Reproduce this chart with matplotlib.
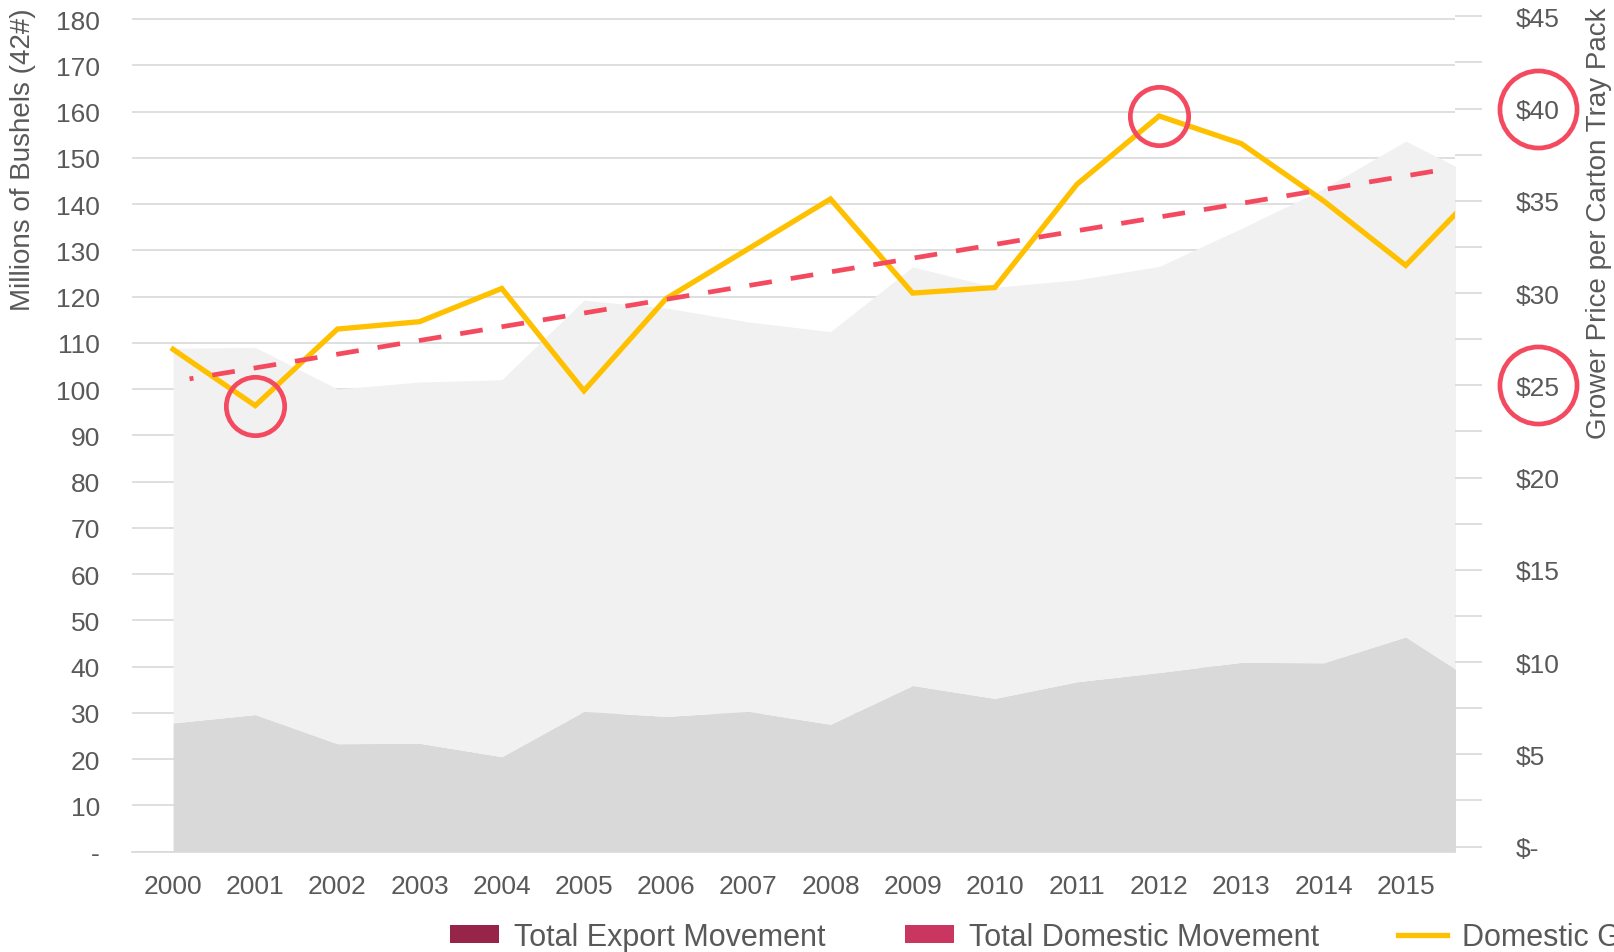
import matplotlib
matplotlib.use("Agg")
import matplotlib.pyplot as plt
import matplotlib.transforms as mtransforms
from matplotlib.lines import Line2D
from matplotlib.patches import Patch
from matplotlib.ticker import FuncFormatter

plt.rcParams["font.family"] = ["Liberation Sans", "DejaVu Sans"]

# values (2016 is only partly visible at the right edge)
years = [2000, 2001, 2002, 2003, 2004, 2005, 2006, 2007, 2008,
         2009, 2010, 2011, 2012, 2013, 2014, 2015, 2016]
export_mm = [27.8, 29.6, 23.3, 23.4, 20.5, 30.3, 29.2, 30.3, 27.5,
             35.9, 33.1, 36.7, 38.7, 40.9, 40.8, 46.4, 34.9]
domestic_mm = [81.0, 79.4, 76.7, 78.1, 81.5, 88.9, 88.3, 84.2, 84.9,
               90.5, 88.9, 86.9, 87.8, 93.8, 102.5, 107.2, 109.7]
grower_price = [26.95, 23.9, 28.05, 28.45, 30.25, 24.7, 29.7, 32.4, 35.1,
                30.0, 30.3, 35.9, 39.6, 38.1, 35.0, 31.5, 36.1]
trend_years = [2000.2, 2015.4]
trend_price = [25.35, 36.65]
circled_years = [2001, 2012]
circled_ticks = [40, 25]

GREY_TEXT = "#595959"
GRID = "#D9D9D9"
RED = "#F44A5F"
GOLD = "#FFC000"

W, H = 1614, 953
fig = plt.figure(figsize=(W / 100, H / 100), dpi=100)
ax = fig.add_axes([132 / W, 1 - 852.5 / H, (1455 - 132) / W, (852.5 - 17) / H])

total_mm = [e + d for e, d in zip(export_mm, domestic_mm)]
ax.fill_between(years, 0, export_mm, color="#D9D9D9", lw=0, zorder=1)
ax.fill_between(years, export_mm, total_mm, color="#F1F1F1", lw=0, zorder=1)

ax.set_xlim(1999.5, 2015.6)
ax.set_ylim(0, 180.65)
ax.set_yticks(range(0, 181, 10))
ax.yaxis.set_major_formatter(FuncFormatter(lambda v, _: "-" if v == 0 else f"{v:.0f}"))
shown_years = [y for y in years if y <= 2015]
ax.set_xticks(shown_years)
ax.set_xticklabels([str(y) for y in shown_years])
ax.grid(axis="y", color=GRID, lw=1.2)
ax.set_axisbelow(True)
ax.tick_params(axis="y", length=0, pad=23, labelsize=19, labelcolor=GREY_TEXT)
ax.tick_params(axis="x", length=0, pad=16, labelsize=19, labelcolor=GREY_TEXT)
for side in ("left", "right", "top"):
    ax.spines[side].set_visible(False)
ax.spines["bottom"].set_color(GRID)
ax.spines["bottom"].set_linewidth(1.2)

ax2 = ax.twinx()
ax2.plot(years, grower_price, color=GOLD, lw=3.8, solid_joinstyle="miter", zorder=3)
ax2.plot(trend_years, trend_price, color=RED, lw=3.4,
         linestyle=(3.98, (4.83, 4.04)), zorder=4)
circ_vals = [grower_price[years.index(y)] for y in circled_years]
ax2.plot(circled_years, circ_vals, "o", ms=42, mfc="none", mec=RED, mew=3.4, zorder=5)

# rings round two of the right-hand tick labels
trans = mtransforms.blended_transform_factory(ax2.transAxes, ax2.transData)
ax2.plot([1.063] * len(circled_ticks), circled_ticks, "o", ms=55.5, mfc="none",
         mec=RED, mew=3.4, transform=trans, clip_on=False, zorder=5)

ax2.set_ylim(-0.27, 45.02)
ax2.set_yticks([i * 2.5 for i in range(19)])


def price_fmt(v, _):
    if abs(v % 5) > 1e-6:
        return ""
    return "$-" if v == 0 else f"${v:.0f}"


ax2.yaxis.set_major_formatter(FuncFormatter(price_fmt))
ax2.tick_params(axis="y", direction="out", length=19.4, width=1.2, color=GRID,
                pad=24.5, labelsize=19, labelcolor=GREY_TEXT)
for side in ("left", "right", "top", "bottom"):
    ax2.spines[side].set_visible(False)

fig.text(23 / W, 1 - 160 / H, "Millions of Bushels (42#)", rotation=90,
         ha="center", va="center", fontsize=20, color=GREY_TEXT)
fig.text(1599 / W, 1 - 223.5 / H, "Grower Price per Carton Tray Pack", rotation=90,
         ha="center", va="center", fontsize=20, color=GREY_TEXT)

# legend runs past the right edge, as in the reference
handles = [
    Patch(facecolor="#962549", label="Total Export Movement"),
    Patch(facecolor="#C9365F", label="Total Domestic Movement"),
    Line2D([], [], color=GOLD, lw=3.8, label="Domestic Grower Price"),
]
fig.legend(handles=handles, loc="center left", bbox_to_anchor=(450 / W, 1 - 938 / H),
           ncol=3, frameon=False, fontsize=22, handlelength=1.6, handleheight=0.5,
           handletextpad=0.49, columnspacing=2.6, borderpad=0, borderaxespad=0,
           labelcolor=GREY_TEXT)

fig.savefig("out.png", dpi=100)
